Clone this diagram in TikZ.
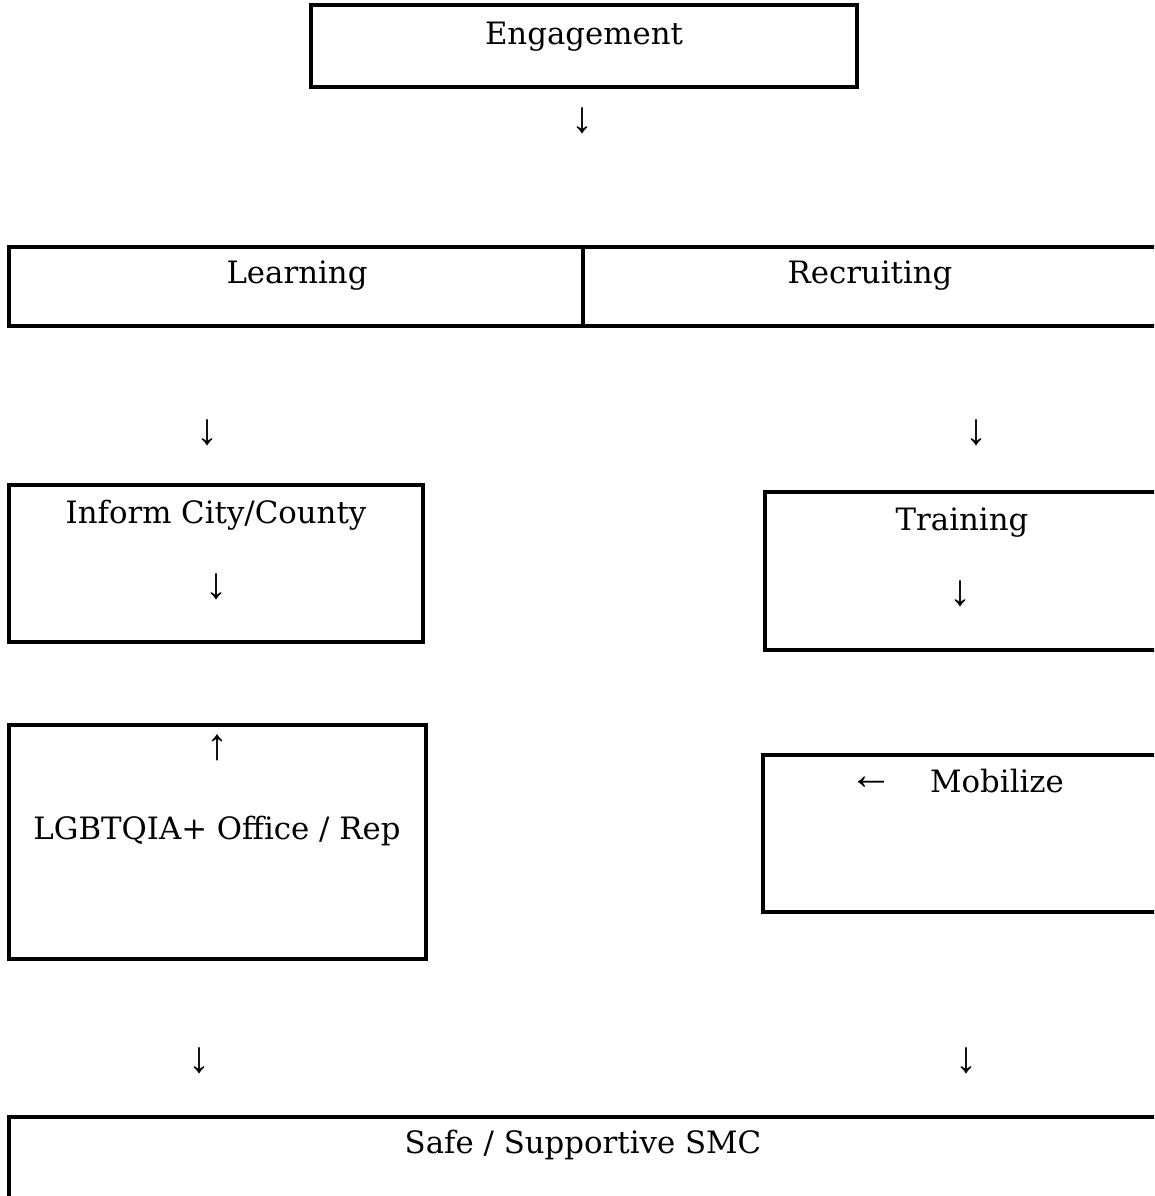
\documentclass[tikz,border=0pt]{standalone}
\usepackage{fontspec}
\setmainfont{DejaVu Serif}
\newfontfamily\arrowfont{Liberation Serif}
\begin{document}
\begin{tikzpicture}[x=1pt,y=-1pt,
  box/.style={draw=black, line width=4pt, inner sep=0pt},
  lbl/.style={inner sep=0pt, anchor=base, font=\fontsize{30.8}{37}\selectfont},
  arr/.style={inner sep=0pt, anchor=center, font=\arrowfont\fontsize{44}{50}\selectfont}]
\useasboundingbox (0,0) rectangle (1154,1196);
\clip (0,0) rectangle (1154,1196);
% boxes
\node[box, minimum width=546pt, minimum height=82pt] (engbox) at (584,46) {};
\node[box, minimum width=574pt, minimum height=79pt] (learnbox) at (296,286.5) {};
\node[box, minimum width=577pt, minimum height=79pt] (recbox) at (871.5,286.5) {};
\node[box, minimum width=414pt, minimum height=157pt] (infbox) at (216,563.5) {};
\node[box, minimum width=395pt, minimum height=158pt] (trainbox) at (962.5,571) {};
\node[box, minimum width=417pt, minimum height=234pt] (lgbtbox) at (217.5,842) {};
\node[box, minimum width=397pt, minimum height=157pt] (mobbox) at (961.5,833.5) {};
\node[box, minimum width=1151pt, minimum height=103pt] (safebox) at (584.5,1168.5) {};
% texts
\node[lbl] (engt) at (584,45) {Engagement};
\node[arr] (a1) at (582,121) {↓};
\node[lbl] (learnt) at (297,283) {Learning};
\node[lbl] (rect) at (870,283) {Recruiting};
\node[arr] (a2) at (207,433) {↓};
\node[arr] (a3) at (976,433) {↓};
\node[lbl] (inft) at (216,523) {Inform City/County};
\node[arr] (a4) at (216,587) {↓};
\node[lbl] (traint) at (962,530) {Training};
\node[arr] (a5) at (960,594) {↓};
\node[arr] (a6) at (217,748) {↑};
\node[lbl] (lgbtt) at (217,839) {LGBTQIA+ Office / Rep};
\node[arr] (a7) at (871,783) {←};
\node[lbl] (mobt) at (997,792) {Mobilize};
\node[arr] (a8) at (199,1061) {↓};
\node[arr] (a9) at (966,1061) {↓};
\node[lbl] (safet) at (583,1153) {Safe / Supportive SMC};
\end{tikzpicture}
\end{document}
